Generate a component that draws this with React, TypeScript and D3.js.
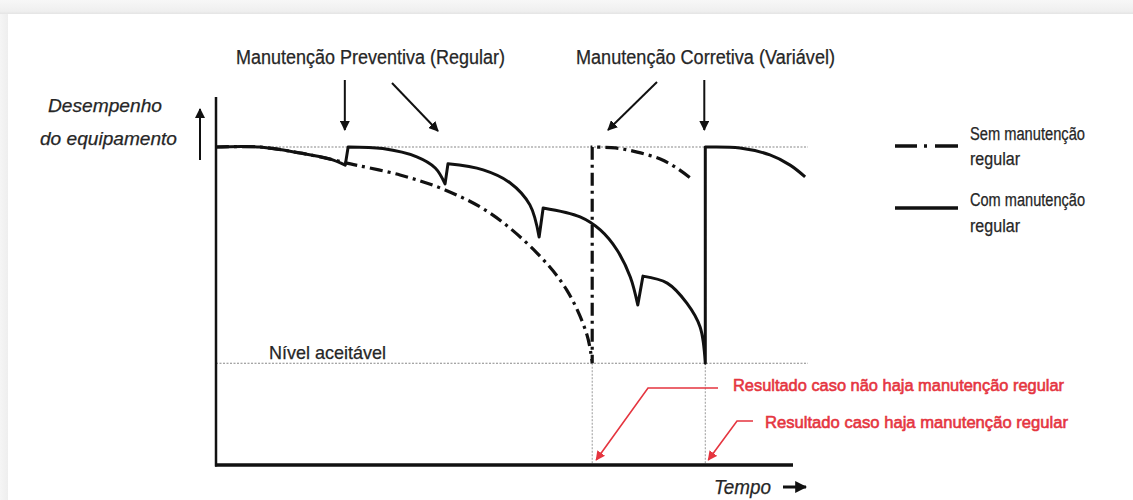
import React from "react";
import * as d3 from "d3";

// ---- data (time 0..100, performance 0..100) ----
const TOP_LEVEL = 100;
const ACCEPTABLE_LEVEL = 32;
const TIME_END = 100;

// "Com manutenção regular" (solid) – segments between maintenance events
const withMaintSeg1: [number, number][] = [[0, 100], [7.6, 100], [14.6, 98.1], [19.8, 96.2], [22.4, 94.3]];
const withMaintSeg2: [number, number][] = [[22.9, 100], [28.9, 99.5], [34.8, 96.9], [38.0, 93.4], [39.7, 88.4]];
const withMaintSeg3: [number, number][] = [[40.2, 94.7], [46.3, 92.8], [51.0, 88.7], [54.4, 81.8], [56.0, 71.7]];
const withMaintSeg4: [number, number][] = [[56.7, 80.8], [63.1, 78.0], [66.6, 73.9], [69.5, 67.6], [71.8, 59.1], [73.1, 50.3]];
const withMaintSeg5: [number, number][] = [[74.0, 59.4], [78.2, 57.2], [81.6, 50.9], [83.9, 43.4], [84.8, 32]];
const withMaintSeg6: [number, number][] = [[84.8, 100], [90.8, 99.7], [96.0, 97.5], [99.5, 94.3], [102.1, 90.6]];

// "Sem manutenção regular" (dash-dot)
const noMaintSegA: [number, number][] = [[0, 100], [7.6, 100], [14.6, 98.1], [19.8, 96.2], [22.5, 95.0], [31.9, 91.2], [39.7, 86.5], [47.5, 79.2], [55.6, 66.7], [60.8, 55.0], [64.3, 40.9], [65.2, 32]];
const noMaintSegB: [number, number][] = [[65.2, 100], [69.2, 99.7], [73.0, 98.4], [77.0, 96.2], [79.6, 93.7], [82.2, 90.3]];

const preventiveTimes = [22.5, 39.9];
const correctiveTimes = [65.2, 84.8];

const topLabels = ["Manutenção Preventiva (Regular)", "Manutenção Corretiva (Variável)"];
const yLabel = ["Desempenho", "do equipamento"];
const xLabel = "Tempo";
const acceptableLabel = "Nível aceitável";
const legendLabels = [["Sem manutenção", "regular"], ["Com manutenção", "regular"]];
const resultLabels = ["Resultado caso não haja manutenção regular", "Resultado caso haja manutenção regular"];

const W = 1133;
const H = 500;
const RED = "#e5353f";
const INK = "#262626";
const FONT = "'Liberation Sans', Arial, sans-serif";

export default function App() {
  const x = d3.scaleLinear().domain([0, TIME_END]).range([216, 793]);
  const y = d3.scaleLinear().domain([0, 100]).range([465, 147]);

  const curve = d3
    .line<[number, number]>()
    .x((d) => x(d[0]))
    .y((d) => y(d[1]))
    .curve(d3.curveCatmullRom.alpha(0.5));

  const join = (segs: [number, number][][]) =>
    segs.map((s, i) => (i === 0 ? curve(s)! : curve(s)!.replace(/^M/, "L"))).join("");

  const solidPath = join([withMaintSeg1, withMaintSeg2, withMaintSeg3, withMaintSeg4, withMaintSeg5, withMaintSeg6]);
  const dashPath = join([noMaintSegA, noMaintSegB]);

  const refEnd = x(102.6);
  const dashArr = "13,5,3,5";

  const txt = (props: any, s: string) => (
    <text fontFamily={FONT} fill={INK} stroke={INK} strokeWidth={0.25} lengthAdjust="spacingAndGlyphs" {...props}>{s}</text>
  );

  return (
    <div style={{ position: "absolute", left: 0, top: 0, width: W, height: H }}>
      <svg width={W} height={H} viewBox={`0 0 ${W} ${H}`} style={{ display: "block" }}>
        <defs>
          <linearGradient id="topband" x1="0" y1="0" x2="0" y2="1">
            <stop offset="0" stopColor="#f7f7f7" />
            <stop offset="0.8" stopColor="#efefef" />
            <stop offset="1" stopColor="#e4e4e4" />
          </linearGradient>
          <linearGradient id="leftband" x1="0" y1="0" x2="1" y2="0">
            <stop offset="0" stopColor="#f5f5f5" />
            <stop offset="1" stopColor="#eeeeee" />
          </linearGradient>
          <marker id="ahBlack" viewBox="0 0 10 10" refX="9" refY="5" markerWidth="5" markerHeight="5" orient="auto" markerUnits="strokeWidth">
            <path d="M0,0 L10,5 L0,10 z" fill="#111" />
          </marker>
          <marker id="ahBig" viewBox="0 0 10 10" refX="9" refY="5" markerWidth="4" markerHeight="4" orient="auto" markerUnits="strokeWidth">
            <path d="M0,0 L10,5 L0,10 z" fill="#111" />
          </marker>
          <marker id="ahRed" viewBox="0 0 10 10" refX="9" refY="5" markerWidth="6" markerHeight="6" orient="auto" markerUnits="strokeWidth">
            <path d="M0,0 L10,5 L0,10 z" fill={RED} />
          </marker>
        </defs>

        {/* page background / card */}
        <rect x={0} y={0} width={W} height={H} fill="#ffffff" />
        <rect x={0} y={0} width={W} height={14} fill="url(#topband)" />
        <rect x={0} y={14} width={8} height={H - 14} fill="url(#leftband)" />

        {/* reference dotted lines */}
        <line x1={x(0)} x2={refEnd} y1={y(TOP_LEVEL)} y2={y(TOP_LEVEL)} stroke="#888" strokeWidth={1.2} strokeDasharray="2,1.5" />
        <line x1={x(0)} x2={refEnd} y1={y(ACCEPTABLE_LEVEL)} y2={y(ACCEPTABLE_LEVEL)} stroke="#888" strokeWidth={1.2} strokeDasharray="2,1.5" />
        {correctiveTimes.map((t) => (
          <line key={t} x1={x(t)} x2={x(t)} y1={y(ACCEPTABLE_LEVEL)} y2={y(0)} stroke="#999" strokeWidth={1} strokeDasharray="2,1.5" />
        ))}

        {/* axes */}
        <line x1={x(0)} x2={x(0)} y1={97} y2={y(0) + 1.5} stroke="#111" strokeWidth={2.5} />
        <line x1={x(0) - 1} x2={x(TIME_END)} y1={y(0)} y2={y(0)} stroke="#111" strokeWidth={3.5} />

        {/* curves */}
        <path d={dashPath} fill="none" stroke="#111" strokeWidth={3.2} strokeDasharray={dashArr} />
        <path d={solidPath} fill="none" stroke="#111" strokeWidth={3} strokeLinejoin="round" />

        {/* top labels */}
        {txt({ x: 236, y: 64, fontSize: 20, textLength: 269 }, topLabels[0])}
        {txt({ x: 576, y: 64, fontSize: 20, textLength: 259 }, topLabels[1])}

        {/* maintenance arrows */}
        <line x1={x(preventiveTimes[0]) - 1} x2={x(preventiveTimes[0]) - 1} y1={80} y2={130} stroke="#111" strokeWidth={2} markerEnd="url(#ahBlack)" />
        <line x1={392} y1={83} x2={438} y2={131} stroke="#111" strokeWidth={2} markerEnd="url(#ahBlack)" />
        <line x1={657} y1={82} x2={608} y2={130} stroke="#111" strokeWidth={2} markerEnd="url(#ahBlack)" />
        <line x1={x(correctiveTimes[1]) - 1} x2={x(correctiveTimes[1]) - 1} y1={80} y2={130} stroke="#111" strokeWidth={2} markerEnd="url(#ahBlack)" />

        {/* y label */}
        {txt({ x: 48, y: 112, fontSize: 19, fontStyle: "italic", textLength: 114 }, yLabel[0])}
        {txt({ x: 40, y: 145, fontSize: 19, fontStyle: "italic", textLength: 137 }, yLabel[1])}
        <line x1={200} x2={200} y1={160} y2={109} stroke="#111" strokeWidth={2} markerEnd="url(#ahBlack)" />

        {/* acceptable */}
        {txt({ x: 269, y: 359, fontSize: 19, textLength: 117 }, acceptableLabel)}

        {/* legend */}
        <line x1={895} x2={958} y1={146} y2={146} stroke="#111" strokeWidth={3.5} strokeDasharray="22,7,3,8,30" />
        {txt({ x: 970, y: 140, fontSize: 18, textLength: 115 }, legendLabels[0][0])}
        {txt({ x: 970, y: 165, fontSize: 18, textLength: 50 }, legendLabels[0][1])}
        <line x1={895} x2={958} y1={208} y2={208} stroke="#111" strokeWidth={3.5} />
        {txt({ x: 970, y: 206, fontSize: 18, textLength: 115 }, legendLabels[1][0])}
        {txt({ x: 970, y: 232, fontSize: 18, textLength: 50 }, legendLabels[1][1])}

        {/* red result annotations */}
        <text x={733} y={391} fontFamily={FONT} fontSize={17} fill={RED} stroke={RED} strokeWidth={0.6} textLength={331} lengthAdjust="spacingAndGlyphs">{resultLabels[0]}</text>
        <text x={765} y={428} fontFamily={FONT} fontSize={17} fill={RED} stroke={RED} strokeWidth={0.6} textLength={303} lengthAdjust="spacingAndGlyphs">{resultLabels[1]}</text>
        <path d={`M718,388 L648,388 L${x(correctiveTimes[0]) + 4},${y(0) - 5}`} fill="none" stroke={RED} strokeWidth={1.6} markerEnd="url(#ahRed)" />
        <path d={`M753,421 L737,421 L${x(correctiveTimes[1]) + 3},${y(0) - 5}`} fill="none" stroke={RED} strokeWidth={1.6} markerEnd="url(#ahRed)" />

        {/* x label */}
        {txt({ x: 714, y: 494, fontSize: 20, fontStyle: "italic", textLength: 57 }, xLabel)}
        <line x1={783} x2={806} y1={487} y2={487} stroke="#111" strokeWidth={3} markerEnd="url(#ahBig)" />
      </svg>
    </div>
  );
}
